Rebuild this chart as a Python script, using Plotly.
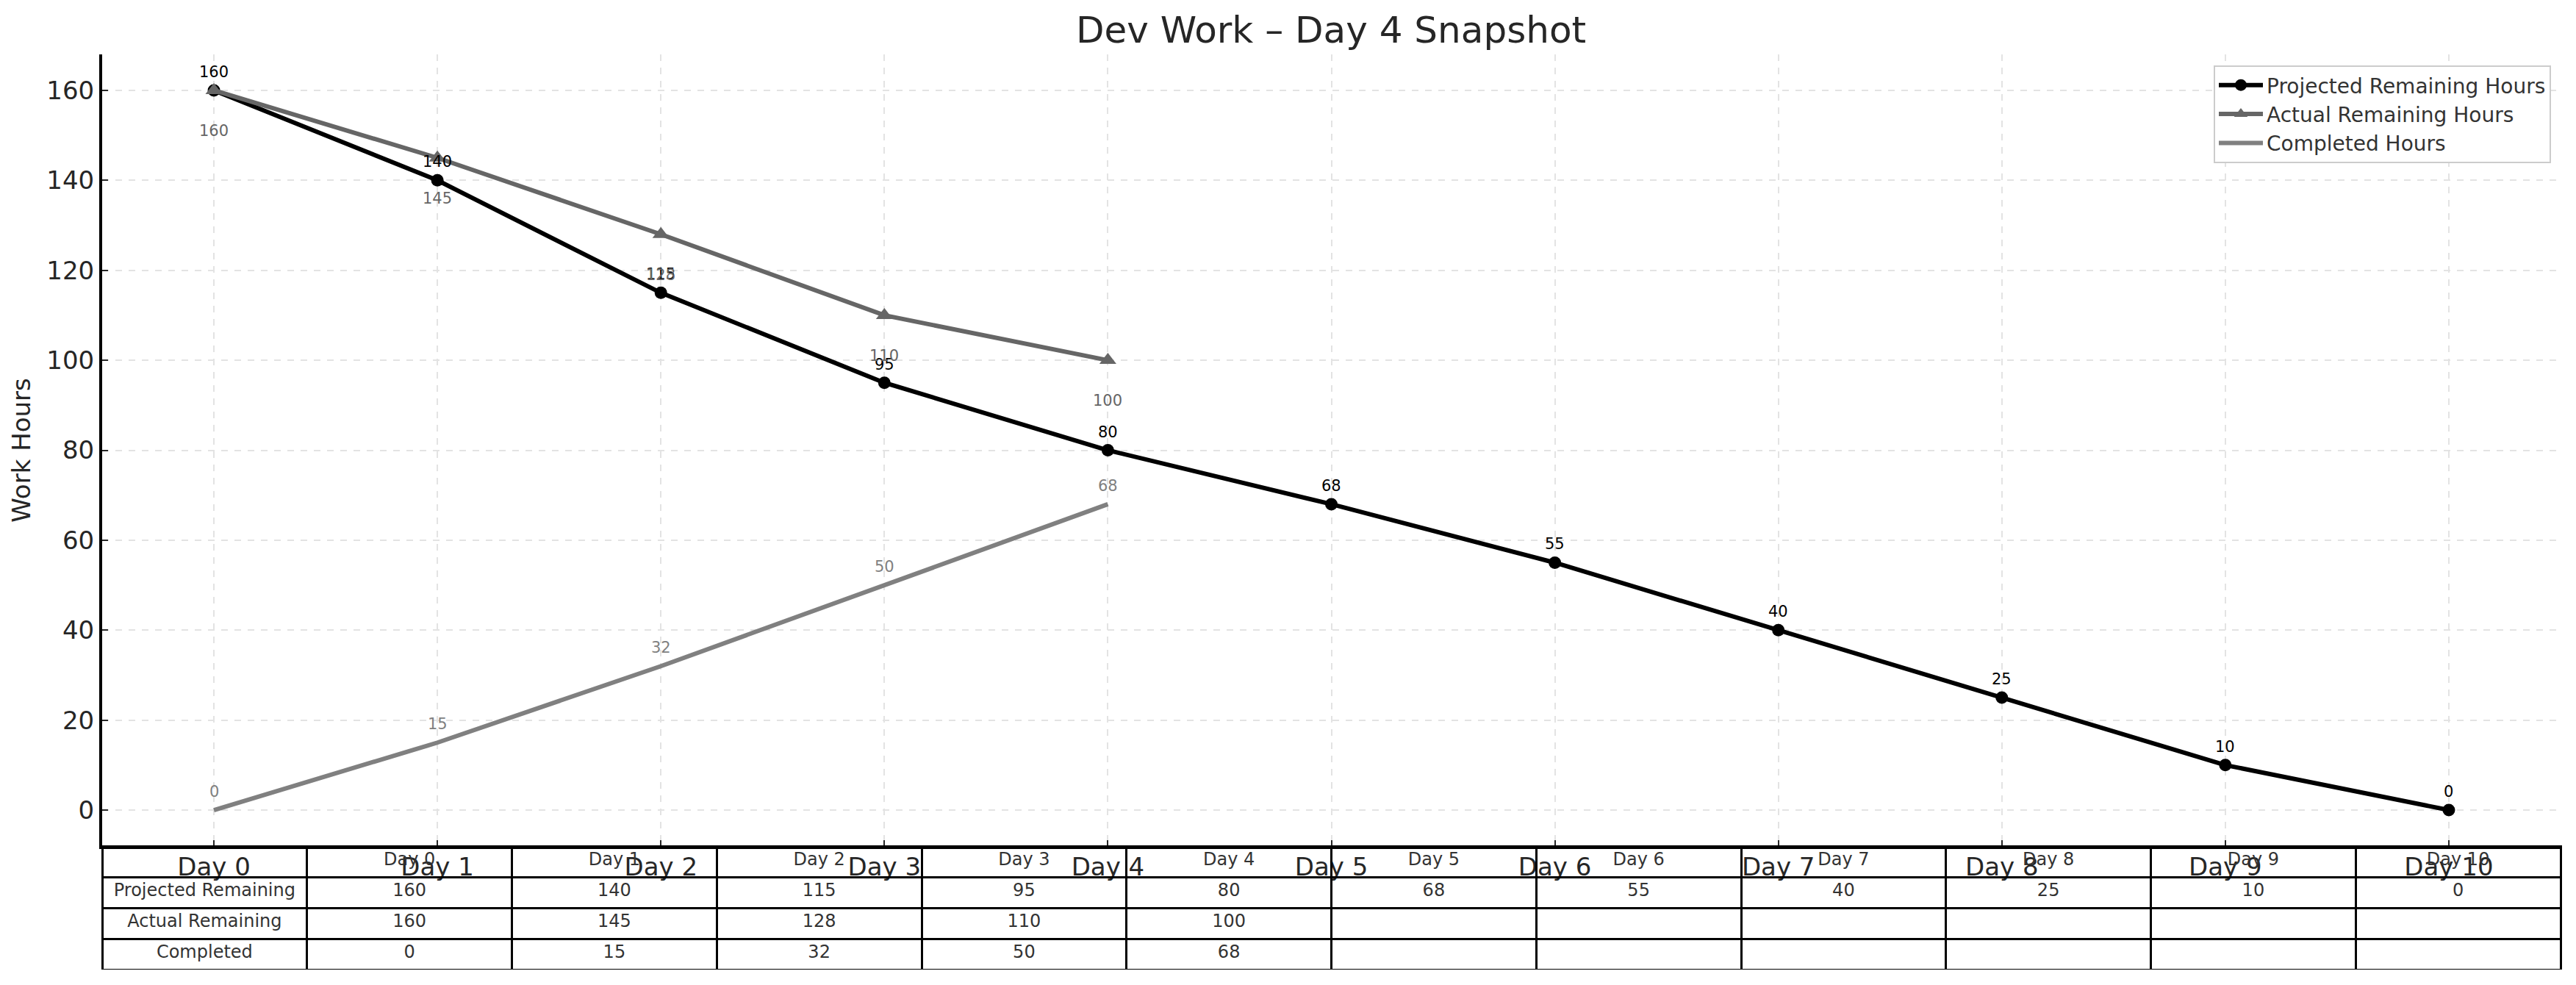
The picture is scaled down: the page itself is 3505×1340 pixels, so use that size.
import plotly.graph_objects as go

days = ["Day 0", "Day 1", "Day 2", "Day 3", "Day 4", "Day 5",
        "Day 6", "Day 7", "Day 8", "Day 9", "Day 10"]
projected = [160, 140, 115, 95, 80, 68, 55, 40, 25, 10, 0]
actual = [160, 145, 128, 110, 100]
completed = [0, 15, 32, 50, 68]
row_labels = ["Projected Remaining", "Actual Remaining", "Completed"]

FONT = "DejaVu Sans"
PAGE_MARGIN = 8  # default body margin of the html page
W, H = 3505 - 2 * PAGE_MARGIN, 1340 - 2 * PAGE_MARGIN


def fx(px):
    return (px - PAGE_MARGIN) / W


def fy(py):
    return 1 - (py - PAGE_MARGIN) / H


fig = go.Figure()

fig.add_trace(go.Scatter(
    x=days, y=projected, mode="lines+markers", name="Projected Remaining Hours",
    line=dict(color="black", width=6), marker=dict(symbol="circle", size=17, color="black"),
))
fig.add_trace(go.Scatter(
    x=days[:len(actual)], y=actual, mode="lines+markers", name="Actual Remaining Hours",
    line=dict(color="#666666", width=6), marker=dict(symbol="triangle-up", size=20, color="#666666"),
))
fig.add_trace(go.Scatter(
    x=days[:len(completed)], y=completed, mode="lines", name="Completed Hours",
    line=dict(color="#808080", width=6),
))

annotations = []
for d, v in zip(days, projected):
    annotations.append(dict(x=d, y=v, xref="x", yref="y", text=str(v), showarrow=False,
                            yshift=25, font=dict(family=FONT, size=21, color="black")))
for d, v in zip(days, actual):
    annotations.append(dict(x=d, y=v, xref="x", yref="y", text=str(v), showarrow=False,
                            yshift=-55, font=dict(family=FONT, size=21, color="#666666")))
for d, v in zip(days, completed):
    annotations.append(dict(x=d, y=v, xref="x", yref="y", text=str(v), showarrow=False,
                            yshift=25, font=dict(family=FONT, size=21, color="#808080")))

# table below the axis
cols = [row_labels]
for i, d in enumerate(days):
    cols.append([
        str(projected[i]),
        str(actual[i]) if i < len(actual) else "",
        str(completed[i]) if i < len(completed) else "",
    ])
fig.add_trace(go.Table(
    domain=dict(x=[fx(139), fx(3484)], y=[fy(1320), fy(1151)]),
    header=dict(values=[""] + days, height=42, fill_color="rgba(0,0,0,0)",
                line=dict(color="black", width=3), align="center",
                font=dict(family=FONT, size=24, color="#333333")),
    cells=dict(values=cols, height=42, fill_color="rgba(0,0,0,0)",
               line=dict(color="black", width=3), align="center",
               font=dict(family=FONT, size=24, color="#333333")),
))

fig.update_layout(
    width=W, height=H,
    margin=dict(l=0, r=0, t=0, b=0),
    paper_bgcolor="white", plot_bgcolor="white",
    font=dict(family=FONT, color="#262626"),
    title=dict(text="Dev Work – Day 4 Snapshot", x=fx(1811), xanchor="center",
               y=fy(40), yanchor="middle", font=dict(family=FONT, size=50, color="#262626")),
    xaxis=dict(domain=[fx(139), fx(3484)], range=[-0.5, 10.5], type="category",
               showline=True, linecolor="black", linewidth=4, mirror=False,
               ticks="inside", ticklen=8, tickwidth=2, tickcolor="#262626",
               showgrid=True, gridcolor="#e3e3e3", gridwidth=1.5, griddash="dash",
               tickfont=dict(family=FONT, size=34, color="#262626"), zeroline=False,
               ticklabelstandoff=-5),
    yaxis=dict(domain=[fy(1151), fy(74)], range=[-8, 168],
               tickvals=[0, 20, 40, 60, 80, 100, 120, 140, 160],
               showline=True, linecolor="black", linewidth=4,
               ticks="inside", ticklen=8, tickwidth=2, tickcolor="#262626",
               showgrid=True, gridcolor="#e3e3e3", gridwidth=1.5, griddash="dash",
               tickfont=dict(family=FONT, size=34, color="#262626"), zeroline=False,
               title=dict(text="Work Hours", standoff=12,
                          font=dict(family=FONT, size=34, color="#262626"))),
    legend=dict(x=fx(3471), y=fy(89), xanchor="right", yanchor="top",
                bgcolor="white", bordercolor="#cccccc", borderwidth=2, itemwidth=60,
                font=dict(family=FONT, size=28, color="#333333")),
    annotations=annotations,
    showlegend=True,
)

fig.write_html("out.html")
